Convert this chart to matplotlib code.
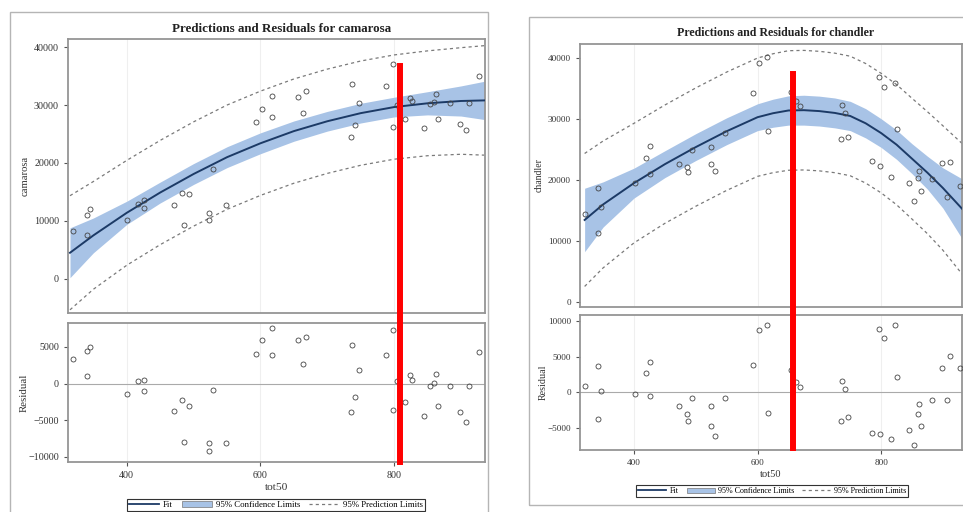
import numpy as np
import matplotlib
matplotlib.use('Agg')
import matplotlib.pyplot as plt
import matplotlib.transforms as mtransforms
from matplotlib.lines import Line2D
from matplotlib.patches import Patch, Rectangle

plt.rcParams['font.family'] = ['Liberation Serif', 'DejaVu Serif']

# camarosa: observed points and residuals
cam_x = [320, 340, 345, 340, 400, 417, 425, 425, 471, 483, 493, 486, 523, 523, 529, 548,
         593, 603, 617, 618, 656, 668, 663, 737, 747, 742, 735, 788, 799, 799, 804, 816,
         824, 827, 845, 854, 859, 863, 865, 884, 899, 907, 912, 927]
cam_y = [8340, 11050, 12000, 7650, 10070, 12960, 13650, 12150, 12660, 14860, 14620, 9330,
         11340, 10240, 19010, 12660, 27080, 29330, 27940, 31640, 31400, 32440, 28630, 33550,
         30430, 26630, 24480, 33370, 37000, 26210, 30090, 27540, 31300, 30660, 26040, 30260,
         30540, 31820, 27540, 30370, 26800, 25640, 30430, 34980]
cam_res = [3400, 4400, 5000, 1090, -1360, 400, 500, -1040, -3720, -2270, -3090, -7990,
           -8170, -9260, -820, -8170, 4040, 5900, 3900, 7590, 5900, 6360, 2720, 5310,
           1900, -1860, -3860, 3950, 7260, -3540, 400, -2450, 1230, 540, -4360, -270,
           90, 1320, -3000, -270, -3900, -5220, -270, 4270]
# camarosa: fit curve and limits
cam_gx = [315, 350, 400, 450, 500, 550, 600, 650, 700, 750, 800, 850, 900, 935]
cam_fit = [4500, 7500, 11400, 14900, 18100, 21000, 23400, 25500, 27200, 28600, 29650, 30300, 30700, 30800]
cam_cl_lo = [200, 4500, 9400, 13100, 16300, 19200, 21600, 23750, 25500, 26900, 27950, 28300, 28100, 27500]
cam_cl_hi = [8800, 10500, 13400, 16700, 19900, 22800, 25200, 27250, 28900, 30300, 31350, 32300, 33300, 34100]
cam_pl_lo = [-5350, -1800, 2350, 5900, 9100, 12000, 14400, 16500, 18200, 19600, 20650, 21250, 21500, 21350]
cam_pl_hi = [14350, 16800, 20450, 23900, 27100, 30000, 32400, 34500, 36200, 37600, 38650, 39350, 39900, 40250]

# chandler: observed points and residuals
chd_x = [321, 341, 347, 341, 402, 419, 426, 426, 472, 485, 487, 494, 524, 524, 531, 548,
         593, 602, 616, 617, 654, 663, 668, 736, 742, 735, 747, 786, 798, 797, 805, 823,
         825, 816, 845, 854, 859, 862, 865, 883, 898, 912, 906, 927]
chd_y = [14380, 18740, 15520, 11260, 19560, 23660, 25620, 20980, 22570, 22080, 21360, 24870,
         25410, 22620, 21480, 27760, 34210, 39130, 40220, 28030, 34380, 33000, 32180, 32340,
         30930, 26670, 27000, 23110, 22340, 36940, 35200, 35850, 28360, 20440, 19560, 16610,
         20380, 21530, 18250, 20110, 22840, 22900, 17160, 19070]
chd_res = [890, 3660, 140, -3800, -280, 2720, 4270, -520, -1970, -3100, -4040, -800,
           -1970, -4790, -6200, -800, 3800, 8730, 9430, -2860, 3100, 1450, 750, 1590,
           420, -4040, -3470, -5680, -5870, 8820, 7560, 9430, 2160, -6520, -5350, -7460,
           -3100, -1600, -4740, -1030, 3420, 5110, -1130, 3480]
# chandler: fit curve and limits
chd_gx = [320, 350, 400, 450, 500, 550, 600, 625, 650, 675, 700, 725, 750, 775, 800, 825,
          850, 875, 900, 931]
chd_fit = [13450, 16000, 19500, 22600, 25400, 28000, 30300, 30950, 31400, 31450, 31300, 31000,
           30500, 29300, 27700, 25800, 23500, 21200, 18700, 15300]
chd_cl_lo = [8250, 12300, 17050, 20400, 23200, 25800, 28100, 28650, 29000, 29000, 28850, 28550,
             28100, 26900, 25350, 23400, 21050, 18500, 15400, 10400]
chd_cl_hi = [18650, 19700, 21950, 24800, 27600, 30200, 32500, 33250, 33800, 33900, 33750, 33450,
             32900, 31700, 30050, 28200, 25950, 23900, 22000, 20200]
chd_pl_lo = [2550, 5600, 9700, 12900, 15700, 18300, 20600, 21200, 21600, 21650, 21500, 21200,
             20700, 19500, 17900, 15950, 13600, 11200, 8500, 4600]
chd_pl_hi = [24350, 26400, 29300, 32300, 35100, 37700, 40000, 40700, 41200, 41250, 41100, 40800,
             40300, 39100, 37500, 35650, 33400, 31200, 28900, 26000]

W, H = 963, 512
fig = plt.figure(figsize=(W / 100, H / 100), dpi=100)


def box(l, t, r, b):
    return [l / W, 1 - b / H, (r - l) / W, (b - t) / H]


FIT_C = '#1c3a66'
BAND_C = '#a8c3e6'
PL_C = '#7a7a7a'
FRAME_C = '#959595'


def style(ax, k):
    for s in ax.spines.values():
        s.set_color(FRAME_C)
        s.set_linewidth(1.3)
    ax.tick_params(colors='#555555', labelcolor='#333333', labelsize=6.6 * k, length=3, width=0.8)
    for t in [400, 600, 800]:
        ax.axvline(t, color='#efefef', lw=0.8, zorder=0)


def panel(l, r, top_tb, res_tb, xlim, ylim, rlim, yticks, rticks,
          gx, fit, cl_lo, cl_hi, pl_lo, pl_hi, px, py, pres, name, title,
          title_y, leg_xy, red_x, red_y, k):
    ax = fig.add_axes(box(l, top_tb[0], r, top_tb[1]))
    style(ax, k)
    ax.fill_between(gx, cl_lo, cl_hi, color=BAND_C, lw=0, zorder=1)
    ax.plot(gx, pl_lo, color=PL_C, lw=0.9, ls=(0, (2.5, 2.5)), zorder=2)
    ax.plot(gx, pl_hi, color=PL_C, lw=0.9, ls=(0, (2.5, 2.5)), zorder=2)
    ax.plot(gx, fit, color=FIT_C, lw=1.4, zorder=3)
    ax.plot(px, py, 'o', mfc='none', mec='#444444', mew=0.6, ms=3.6, zorder=4)
    ax.set_xlim(xlim)
    ax.set_ylim(ylim)
    ax.set_yticks(yticks)
    ax.set_xticks([])
    ax.set_ylabel(name, fontsize=7 * k, color='#333333', labelpad=3)

    ar = fig.add_axes(box(l, res_tb[0], r, res_tb[1]))
    style(ar, k)
    ar.axhline(0, color='#aaaaaa', lw=0.8, zorder=1)
    ar.plot(px, pres, 'o', mfc='none', mec='#444444', mew=0.6, ms=3.6, zorder=4)
    ar.set_xlim(xlim)
    ar.set_ylim(rlim)
    ar.set_yticks(rticks)
    ar.set_xticks([400, 600, 800])
    ar.set_ylabel('Residual', fontsize=7.2 * k, color='#333333', labelpad=0)
    ar.set_xlabel('tot50', fontsize=7.5 * k, color='#333333', labelpad=2)

    fig.text((l + r) / 2 / W + 0.005, 1 - title_y / H, title, ha='center', va='center',
             fontsize=8.6 * k, fontweight='bold', color='#222222')

    handles = [Line2D([], [], color=FIT_C, lw=1.3),
               Patch(facecolor=BAND_C, edgecolor='#777777', lw=0.5),
               Line2D([], [], color=PL_C, lw=0.9, ls=(0, (2.5, 2.5)))]
    labels = ['Fit', '95% Confidence Limits', '95% Prediction Limits']
    leg = fig.legend(handles, labels, loc='center', ncol=3,
                     bbox_to_anchor=(leg_xy[0] / W, 1 - leg_xy[1] / H),
                     fontsize=5.8 * k, frameon=True, fancybox=False, framealpha=1,
                     edgecolor='#333333', borderpad=0.2, handlelength=3.5,
                     handleheight=0.6, columnspacing=1.0, handletextpad=0.4)
    leg.get_frame().set_linewidth(0.8)

    trans = mtransforms.blended_transform_factory(ax.transData, fig.transFigure)
    fig.add_artist(Line2D([red_x, red_x], [1 - red_y[0] / H, 1 - red_y[1] / H],
                          color='#ff0000', lw=4.3, transform=trans, zorder=10))


# outer frames of the two screenshots
fig.add_artist(Rectangle((10 / W, -0.01), 478 / W, 1 - 12 / H + 0.01, fill=False,
                         edgecolor='#b5b5b5', lw=1.0, transform=fig.transFigure))
fig.add_artist(Rectangle((529 / W, 1 - 505 / H), 440 / W, 488 / H, fill=False,
                         edgecolor='#b5b5b5', lw=1.0, transform=fig.transFigure))

panel(68, 485, (39, 313), (323, 462), (312, 936), (-5900, 41400), (-10700, 8270),
      [0, 10000, 20000, 30000, 40000], [-10000, -5000, 0, 5000],
      cam_gx, cam_fit, cam_cl_lo, cam_cl_hi, cam_pl_lo, cam_pl_hi,
      cam_x, cam_y, cam_res, 'camarosa', 'Predictions and Residuals for camarosa',
      29, (276, 505), 809, (66, 462), 1.09)

panel(580, 962, (44, 307), (315, 450), (312.5, 931), (-820, 42300), (-8100, 10850),
      [0, 10000, 20000, 30000, 40000], [-5000, 0, 5000, 10000],
      chd_gx, chd_fit, chd_cl_lo, chd_cl_hi, chd_pl_lo, chd_pl_hi,
      chd_x, chd_y, chd_res, 'chandler', 'Predictions and Residuals for chandler',
      33, (772, 491), 657.5, (74, 448), 1.0)

fig.savefig('out.png', dpi=100)
